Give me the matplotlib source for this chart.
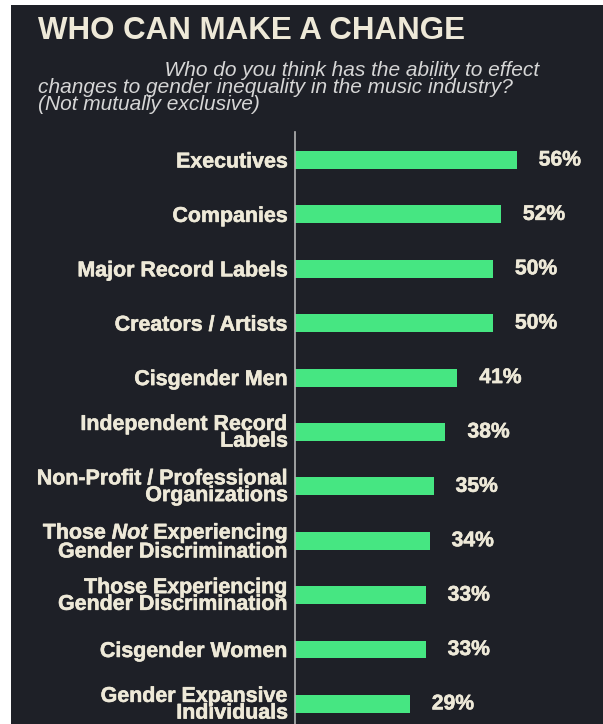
import matplotlib
matplotlib.use("Agg")
import matplotlib.pyplot as plt
import matplotlib.patheffects as pe
from matplotlib.patches import Rectangle

plt.rcParams['font.family'] = ['Liberation Sans', 'DejaVu Sans']
plt.rcParams['mathtext.fontset'] = 'custom'
plt.rcParams['mathtext.rm'] = 'Liberation Sans:bold'
plt.rcParams['mathtext.it'] = 'Liberation Sans:italic:bold'
plt.rcParams['mathtext.bf'] = 'Liberation Sans:bold'

## the data
categories = ["Executives", "Companies", "Major Record Labels",
              "Creators / Artists", "Cisgender Men",
              "Independent Record\nLabels",
              "Non-Profit / Professional\nOrganizations",
              "Those $\\mathit{Not}$ Experiencing\nGender Discrimination",
              "Those Experiencing\nGender Discrimination",
              "Cisgender Women",
              "Gender Expansive\nIndividuals"]
values = [56, 52, 50, 50, 41, 38, 35, 34, 33, 33, 29]

bg = '#1e2027'
green = '#46e682'
cream = '#eee9d8'
heavy = [pe.withStroke(linewidth=0.4, foreground=cream)]

W, H = 603, 724
fig = plt.figure(figsize=(W / 100, H / 100), dpi=100, facecolor='white')

# dark panel (thin white margin on left and top)
fig.patches.append(Rectangle((11 / W, 0), 1 - 11 / W, 1 - 5 / H,
                             transform=fig.transFigure, facecolor=bg,
                             edgecolor='none', zorder=0))

# title and question
fig.text(38 / W, 1 - 39 / H, "WHO CAN MAKE A CHANGE", fontsize=22.5,
         fontweight='bold', color=cream, ha='left', va='baseline')
question = (" " * 22 + "Who do you think has the ability to effect\n"
            "changes to gender inequality in the music industry?\n"
            "(Not mutually exclusive)")
# baseline alignment of a multi-line text sits on its last line
fig.text(38 / W, 1 - 110 / H, question, fontsize=15.0, style='italic',
         color='#d6d6d6', ha='left', va='baseline', linespacing=0.86)

# axes placed so that bars line up with the picture
ax_left, ax_top = 295, 132
ax = fig.add_axes([ax_left / W, 0, (W - ax_left) / W, (H - ax_top) / H])
ax.set_facecolor('none')
ax.set_zorder(2)

ind = list(range(len(categories)))
ax.barh(ind, values, height=0.33, color=green)

ax.set_xlim(0, 77.8)
ax.set_ylim(10.37, -0.515)

for i, v in zip(ind, values):
    ax.annotate(f"{v}%", (v, i), xytext=(22, 0), textcoords='offset pixels',
                ha='left', va='center', fontsize=15.2, fontweight='bold',
                color=cream, path_effects=heavy)

ax.set_yticks(ind)
labels = ax.set_yticklabels(categories)
plt.setp(labels, fontsize=15.4, fontweight='bold', color=cream,
         linespacing=0.85, path_effects=heavy)
ax.tick_params(axis='y', length=0, pad=5)
ax.set_xticks([])

for s in ['top', 'right', 'bottom']:
    ax.spines[s].set_visible(False)
ax.spines['left'].set_color('#b5b5b5')
ax.spines['left'].set_linewidth(1.2)

fig.savefig('out.png', dpi=100, facecolor=fig.get_facecolor())
